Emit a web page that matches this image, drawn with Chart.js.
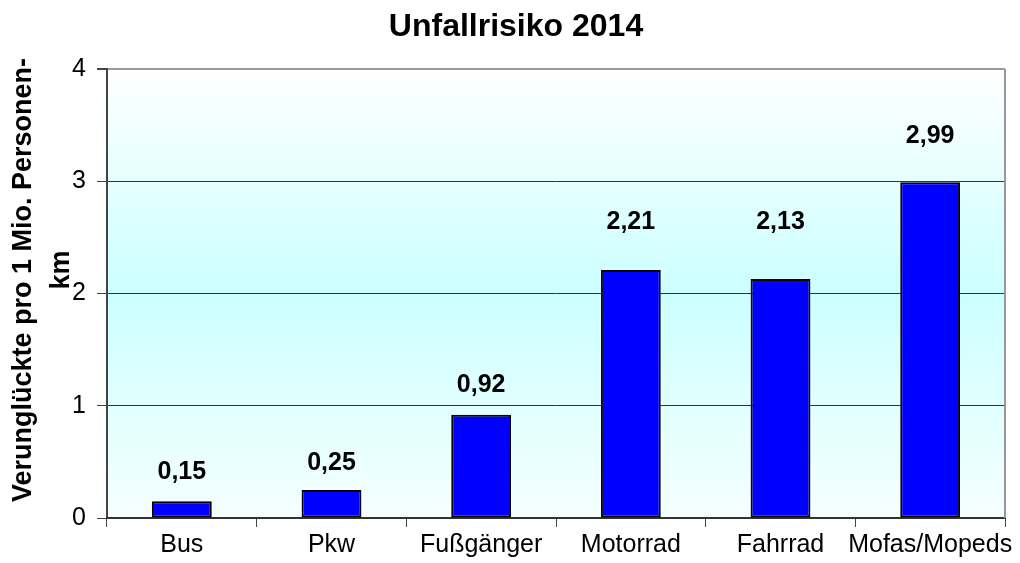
<!DOCTYPE html>
<html>
<head>
<meta charset="utf-8">
<script src="https://cdn.jsdelivr.net/npm/chart.js@4"></script>
<style>html,body{margin:0;padding:0;background:#fff}</style>
</head>
<body>
<canvas id="chart" width="1020" height="563"></canvas>
<script>
const categories = ['Bus', 'Pkw', 'Fußgänger', 'Motorrad', 'Fahrrad', 'Mofas/Mopeds'];
const risk = [0.15, 0.25, 0.92, 2.21, 2.13, 2.99];
const yTicks = [0, 1, 2, 3, 4];
const titleText = 'Unfallrisiko 2014';
const yTitle = ['Verunglückte pro 1 Mio. Personen-', 'km'];

const FONT = '"Liberation Sans", Arial, sans-serif';
// excel puts the value labels at slightly different heights above the bars
const labelLift = [29, 27, 30, 48, 57, 46];

const decor = {
  id: 'decor',
  beforeDraw(chart) {
    const { ctx, chartArea: a } = chart;
    const g = ctx.createLinearGradient(0, a.top, 0, a.bottom);
    g.addColorStop(0, '#ffffff');
    g.addColorStop(0.5, '#ccffff');
    g.addColorStop(1, '#f6ffff');
    ctx.save();
    ctx.fillStyle = g;
    ctx.fillRect(a.left, a.top, a.right - a.left, a.bottom - a.top);
    ctx.restore();
  },
  afterDraw(chart) {
    const { ctx, chartArea: a } = chart;
    ctx.save();
    // right border of plot area
    ctx.strokeStyle = '#999';
    ctx.lineWidth = 2;
    ctx.beginPath();
    ctx.moveTo(a.right, a.top);
    ctx.lineTo(a.right, a.bottom);
    ctx.stroke();

    ctx.fillStyle = '#000';
    ctx.textAlign = 'center';
    ctx.textBaseline = 'alphabetic';
    ctx.font = 'bold 32px ' + FONT;
    ctx.fillText(titleText, 516, 36);

    ctx.font = 'bold 27px ' + FONT;
    ctx.save();
    ctx.translate(31, 280);
    ctx.rotate(-Math.PI / 2);
    ctx.fillText(yTitle[0], 0, 0);
    ctx.restore();
    ctx.save();
    ctx.translate(69, 270);
    ctx.rotate(-Math.PI / 2);
    ctx.fillText(yTitle[1], 0, 0);
    ctx.restore();

    ctx.font = 'bold 25px ' + FONT;
    ctx.textBaseline = 'middle';
    chart.getDatasetMeta(0).data.forEach((bar, i) => {
      ctx.fillText(risk[i].toFixed(2).replace('.', ','), bar.x, bar.y - labelLift[i]);
    });
    ctx.restore();
  }
};

new Chart(document.getElementById('chart').getContext('2d'), {
  type: 'bar',
  data: {
    labels: categories,
    datasets: [{
      data: risk,
      backgroundColor: '#0000ff',
      borderColor: '#000',
      borderWidth: 2,
      borderSkipped: false,
      categoryPercentage: 0.4,
      barPercentage: 1
    }]
  },
  options: {
    animation: false,
    responsive: false,
    layout: { padding: { top: 69, right: 15, left: 0, bottom: 0 } },
    plugins: { legend: { display: false }, tooltip: { enabled: false } },
    scales: {
      y: {
        min: yTicks[0],
        max: yTicks[yTicks.length - 1],
        afterBuildTicks(s) { s.ticks = yTicks.map(v => ({ value: v })); },
        afterFit(s) { s.width = 107; },
        ticks: { font: { family: FONT, size: 25 }, color: '#000', padding: 11 },
        grid: {
          color: c => c.tick && c.tick.value === 4 ? '#999' : '#333',
          lineWidth: c => c.tick && c.tick.value === 4 ? 2 : 1,
          tickLength: 10,
          tickColor: '#444'
        },
        border: { color: '#444', width: 2 }
      },
      x: {
        afterFit(s) { s.height = 45; },
        ticks: { font: { family: FONT, size: 25 }, color: '#000', padding: 3, maxRotation: 0, minRotation: 0, autoSkip: false },
        grid: { offset: true, drawOnChartArea: false, tickLength: 9, tickColor: '#444' },
        border: { color: '#333', width: 2 }
      }
    }
  },
  plugins: [decor]
});
</script>
</body>
</html>
